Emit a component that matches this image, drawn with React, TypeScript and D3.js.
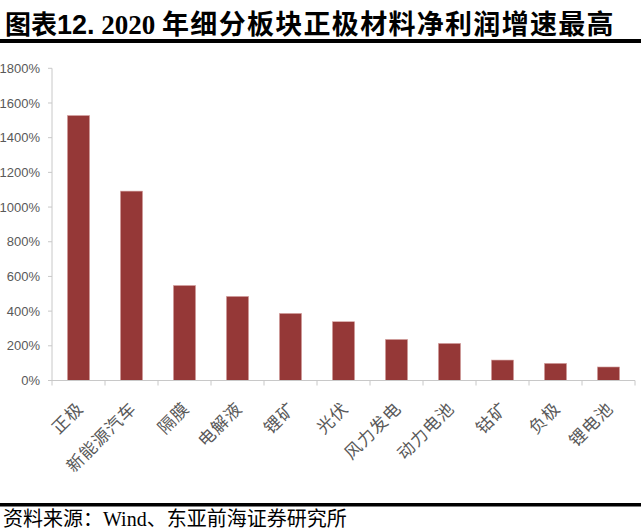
import React from "react";
import * as d3 from "d3";

const categories = ["正极", "新能源汽车", "隔膜", "电解液", "锂矿", "光伏", "风力发电", "动力电池", "钴矿", "负极", "锂电池"];
const growthValues = [1528, 1092, 548, 485, 387, 339, 237, 214, 118, 99, 78];
const yTicks = [0, 200, 400, 600, 800, 1000, 1200, 1400, 1600, 1800];

const W = 641;
const H = 532;
const plot = { left: 52, right: 635, top: 68.3, bottom: 380.5 };

export default function App() {
  const x = d3
    .scaleBand<string>()
    .domain(categories)
    .range([plot.left, plot.right])
    .paddingInner(0.58)
    .paddingOuter(0.29);
  const y = d3.scaleLinear().domain([0, 1800]).range([plot.bottom, plot.top]);
  const step = x.step();
  const boundaries = d3.range(categories.length + 1).map((i) => plot.left + i * step);
  const axisColor = "#c8c8c8";
  const labelColor = "#595959";

  return (
    <div style={{ position: "absolute", left: 0, top: 0 }}>
      <svg width={W} height={H} style={{ display: "block", background: "#fff" }}>
        <text x={5} y={34} fontSize={27} fontWeight="bold" fill="#000">
          <tspan fontFamily="'Noto Sans CJK SC', sans-serif" fontSize={26}>图表</tspan>
          <tspan fontFamily="'Liberation Sans', Arial, sans-serif">12.</tspan>
          <tspan fontFamily="'Liberation Serif', serif"> 2020 </tspan>
          <tspan fontFamily="'Noto Sans CJK SC', sans-serif" letterSpacing={1.3}>年细分板块正极材料净利润增速最高</tspan>
        </text>
        <rect x={0} y={39} width={W} height={4} fill="#000" />

        {/* y axis */}
        <line x1={plot.left} x2={plot.left} y1={plot.top} y2={plot.bottom} stroke={axisColor} strokeWidth={1} />
        {yTicks.map((t) => (
          <g key={t}>
            <line x1={plot.left - 4} x2={plot.left} y1={y(t)} y2={y(t)} stroke={axisColor} />
            <text
              x={40}
              y={y(t)}
              dy="0.35em"
              textAnchor="end"
              fontSize={13}
              fontFamily="'Liberation Sans', Arial, sans-serif"
              fill={labelColor}
            >
              {`${t}%`}
            </text>
          </g>
        ))}

        {/* bars */}
        {categories.map((c, i) => (
          <rect
            key={c}
            x={x(c)}
            y={y(growthValues[i])}
            width={x.bandwidth()}
            height={plot.bottom - y(growthValues[i])}
            fill="#953837"
            stroke="#d9a9a8"
            strokeWidth={0.6}
          />
        ))}

        {/* x axis */}
        <line x1={plot.left} x2={plot.right} y1={plot.bottom} y2={plot.bottom} stroke={axisColor} />
        {boundaries.map((bx, i) => (
          <line key={i} x1={bx} x2={bx} y1={plot.bottom} y2={plot.bottom + 5} stroke={axisColor} />
        ))}
        {categories.map((c) => {
          const cx = (x(c) as number) + x.bandwidth() / 2;
          return (
            <text
              key={c}
              transform={`translate(${cx + 6},${plot.bottom + 29}) rotate(-45)`}
              textAnchor="end"
              fontSize={17}
              letterSpacing={1}
              fontFamily="'Noto Sans CJK SC', sans-serif"
              fill={labelColor}
            >
              {c}
            </text>
          );
        })}

        {/* footer */}
        <rect x={0} y={503} width={W} height={3.5} fill="#000" />
        <text x={3} y={526} fontSize={20} fill="#000">
          <tspan fontFamily="'Noto Sans CJK SC', sans-serif">资料来源：</tspan>
          <tspan fontFamily="'Liberation Serif', serif">Wind</tspan>
          <tspan fontFamily="'Noto Sans CJK SC', sans-serif">、东亚前海证券研究所</tspan>
        </text>
      </svg>
    </div>
  );
}
